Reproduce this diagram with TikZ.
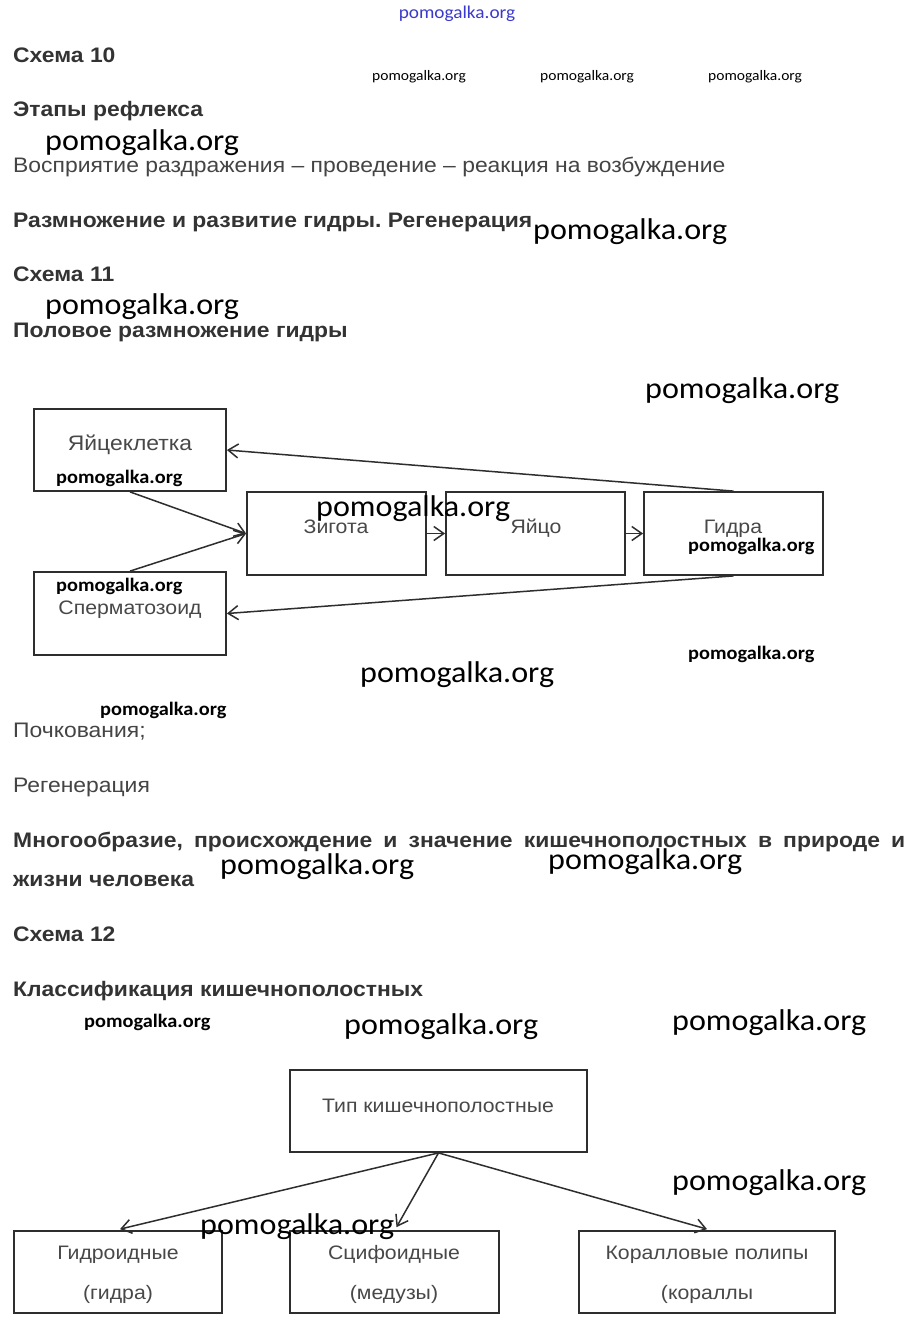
\documentclass[tikz,border=0pt]{standalone}
\usepackage{fontspec}
\setmainfont[FakeStretch=1.09]{Liberation Sans}
\newfontfamily\wmfont[FakeStretch=1.07]{Carlito}
\usetikzlibrary{arrows.meta}
\definecolor{headc}{HTML}{333333}
\definecolor{bodyc}{HTML}{444444}
\definecolor{diagc}{HTML}{484848}
\definecolor{linec}{HTML}{2E2E2E}
\definecolor{wmblue}{HTML}{3A3ACC}
\frenchspacing
\begin{document}
\begin{tikzpicture}[x=1pt,y=-1pt,
  head/.style={anchor=base west, inner sep=0, text=headc, font=\fontsize{21}{25}\selectfont\bfseries},
  body/.style={anchor=base west, inner sep=0, text=bodyc, font=\fontsize{21}{25}\selectfont},
  dtext/.style={anchor=base, inner sep=0, text=diagc, font=\fontsize{19.5}{23}\selectfont},
  wmbig/.style={anchor=base west, inner sep=0, text=black, font=\wmfont\fontsize{30}{34}\selectfont},
  wmsmall/.style={anchor=base west, inner sep=0, text=black, font=\wmfont\fontsize{14.5}{17}\selectfont},
  wmbold/.style={anchor=base west, inner sep=0, text=black, font=\wmfont\bfseries\fontsize{19}{22}\selectfont},
  box/.style={draw=linec, line width=1.8pt, inner sep=0, fill=none},
  conn/.style={draw=linec, line width=1.5pt, -{Straight Barb[length=10pt,width=14pt,line width=1.5pt]}}
]
\useasboundingbox[fill=white] (0,0) rectangle (913,1326);

% top watermark
\node[anchor=base, inner sep=0, text=wmblue, font=\wmfont\fontsize{18}{20}\selectfont] (wtop) at (457,18) {pomogalka.org};

% text block
\node[head] (s10) at (13,62) {Схема 10};
\node[wmsmall] (w1) at (372,80) {pomogalka.org};
\node[wmsmall] (w2) at (540,80) {pomogalka.org};
\node[wmsmall] (w3) at (708,80) {pomogalka.org};
\node[head] (etap) at (13,116) {Этапы рефлекса};
\node[wmbig] (w4) at (45,150) {pomogalka.org};
\node[body] (vospr) at (13,172) {Восприятие раздражения – проведение – реакция на возбуждение};
\node[head] (razm) at (13,227) {Размножение и развитие гидры. Регенерация};
\node[wmbig] (w5) at (533,239) {pomogalka.org};
\node[head] (s11) at (13,281) {Схема 11};
\node[wmbig] (w6) at (45,314) {pomogalka.org};
\node[head] (polov) at (13,337) {Половое размножение гидры};
\node[wmbig] (w7) at (645,398) {pomogalka.org};

% diagram 11
\node[box, minimum width=192pt, minimum height=82pt] (egg) at (130,450) {};
\node[box, minimum width=179pt, minimum height=83pt] (zyg) at (336.5,533.5) {};
\node[box, minimum width=179pt, minimum height=83pt] (ovum) at (535.5,533.5) {};
\node[box, minimum width=179pt, minimum height=83pt] (hydra) at (733.5,533.5) {};
\node[box, minimum width=192pt, minimum height=83pt] (sperm) at (130,613.5) {};

\node[dtext, font=\fontsize{21}{24}\selectfont] (egglbl) at (130,450) {Яйцеклетка};
\node[dtext] (zyglbl) at (336,533) {Зигота};
\node[dtext] (ovumlbl) at (536,533) {Яйцо};
\node[dtext] (hydralbl) at (733,533) {Гидра};
\node[dtext] (spermlbl) at (130,614) {Сперматозоид};

\draw[conn] (hydra.north) -- (egg.east);
\draw[conn] (hydra.south) -- (sperm.east);
\draw[conn] (egg.south) -- (zyg.west);
\draw[conn] (sperm.north) -- (zyg.west);
\draw[conn] (zyg.east) -- (ovum.west);
\draw[conn] (ovum.east) -- (hydra.west);

\node[wmbold] (w8) at (56,483) {pomogalka.org};
\node[wmbold] (w9) at (56,591) {pomogalka.org};
\node[wmbold] (w10) at (688,551) {pomogalka.org};
\node[wmbig] (w11) at (316,516) {pomogalka.org};
\node[wmbold] (w12) at (688,659) {pomogalka.org};
\node[wmbig] (w13) at (360,682) {pomogalka.org};
\node[wmbold] (w14) at (100,715) {pomogalka.org};

\node[body] (poch) at (13,737) {Почкования;};
\node[body] (regen) at (13,792) {Регенерация};
\node[head] (mnog) at (13,847) {\makebox[892pt][s]{Многообразие, происхождение и значение кишечнополостных в природе и}};
\node[head] (zhizn) at (13,886) {жизни человека};
\node[wmbig] (w15) at (220,874) {pomogalka.org};
\node[wmbig] (w16) at (548,869) {pomogalka.org};
\node[head] (s12) at (13,941) {Схема 12};
\node[head] (klass) at (13,996) {Классификация кишечнополостных};
\node[wmbold] (w17) at (84,1027) {pomogalka.org};
\node[wmbig] (w18) at (344,1034) {pomogalka.org};
\node[wmbig] (w19) at (672,1030) {pomogalka.org};

% diagram 12
\node[box, minimum width=297pt, minimum height=82pt] (type) at (438.5,1111) {};
\node[box, minimum width=208pt, minimum height=82pt] (hydroid) at (118,1272) {};
\node[box, minimum width=209pt, minimum height=82pt] (scyph) at (394.5,1272) {};
\node[box, minimum width=256pt, minimum height=82pt] (coral) at (707,1272) {};

\node[dtext] (typelbl) at (438,1112) {Тип кишечнополостные};
\node[dtext] (hydroidlbl) at (118,1259) {Гидроидные};
\node[dtext] (hydroidsub) at (118,1299) {(гидра)};
\node[dtext] (scyphlbl) at (394,1259) {Сцифоидные};
\node[dtext] (scyphsub) at (394,1299) {(медузы)};
\node[dtext] (corallbl) at (707,1259) {Коралловые полипы};
\node[dtext] (coralsub) at (707,1299) {(кораллы};

\draw[conn] (type.south) -- ([shift={(2,-1)}]hydroid.north);
\draw[conn] (type.south) -- ([shift={(2,-3)}]scyph.north);
\draw[conn] (type.south) -- ([shift={(0,-1)}]coral.north);

\node[wmbig] (w20) at (672,1190) {pomogalka.org};
\node[wmbig] (w21) at (200,1234) {pomogalka.org};
\end{tikzpicture}
\end{document}
